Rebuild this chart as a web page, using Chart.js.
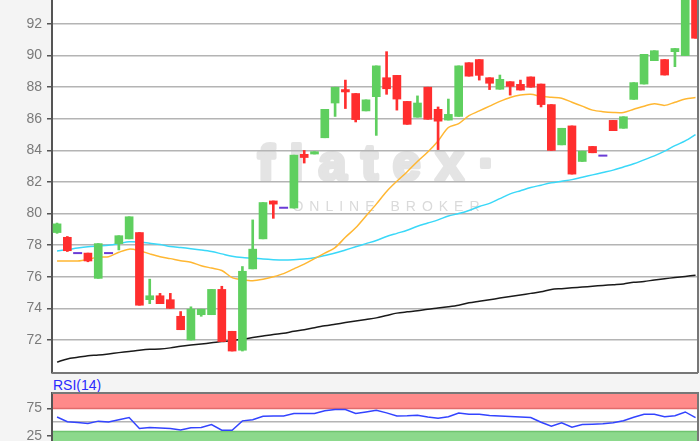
<!DOCTYPE html>
<html>
<head>
<meta charset="utf-8">
<script src="https://cdn.jsdelivr.net/npm/chart.js@4/dist/chart.umd.min.js"></script>
<style>
  html, body { margin: 0; padding: 0; width: 700px; height: 441px; overflow: hidden; background: #f4f4f4; }
  #main { position: absolute; left: 0; top: 0; }
  #rsi { position: absolute; left: 0; top: 392px; }
  #rsiLabel { position: absolute; left: 53px; top: 377px; font: 14px "Liberation Sans", Arial, sans-serif; line-height: 16px; color: #2a2aff; }
</style>
</head>
<body>
<canvas id="main" width="700" height="374"></canvas>
<div id="rsiLabel">RSI(14)</div>
<canvas id="rsi" width="700" height="80"></canvas>
<script>
// Kursdaten (63 Kerzen)
const opens = [78.8, 78.5, 77.5, 77.5, 75.9, 77.5, 78.1, 78.4, 78.8, 74.55,
  74.8, 74.55, 73.5, 72.0, 73.6, 73.6, 75.2, 72.55, 71.35, 76.5,
  78.4, 80.8, 80.37, 80.35, 83.75, 83.77, 84.8, 87.0, 87.85, 87.6,
  86.5, 87.4, 88.6, 88.75, 87.1, 86.1, 88.0, 86.6, 85.92, 86.15,
  89.55, 89.75, 88.6, 87.87, 88.35, 88.18, 88.65, 88.2, 86.9, 84.35,
  85.55, 83.3, 84.25, 83.67, 85.9, 85.4, 87.23, 88.2, 89.68, 89.75,
  90.25, 90.0, 94.5];
const closes = [79.35, 77.65, 77.5, 77.0, 78.1, 77.5, 78.6, 79.8, 74.2, 74.8,
  74.3, 74.0, 72.65, 73.95, 73.95, 75.2, 71.9, 71.3, 76.35, 77.75,
  80.7, 80.6, 80.37, 83.7, 83.55, 83.92, 86.6, 88.0, 87.7, 85.95,
  87.2, 89.35, 87.9, 87.25, 85.65, 87.0, 85.97, 85.85, 86.28, 89.35,
  88.7, 88.75, 88.25, 88.5, 88.05, 87.82, 88.0, 86.9, 84.0, 85.4,
  82.5, 83.95, 83.85, 83.67, 85.25, 86.13, 88.29, 90.08, 90.31, 88.77,
  90.45, 94.5, 91.1];
const highs = [79.4, 78.55, 77.5, 77.5, 78.1, 77.5, 78.6, 79.8, 78.8, 75.85,
  74.95, 74.95, 73.8, 74.1, 73.95, 75.2, 75.4, 72.55, 76.65, 79.6,
  80.7, 80.8, 80.37, 83.7, 84.0, 83.92, 86.6, 88.0, 88.45, 87.6,
  87.2, 89.35, 90.25, 88.75, 87.1, 87.45, 88.0, 86.75, 87.25, 89.35,
  89.55, 89.75, 88.6, 88.77, 88.35, 88.45, 88.65, 88.2, 86.9, 85.4,
  85.55, 83.95, 84.25, 83.67, 85.9, 86.13, 88.29, 90.08, 90.31, 89.75,
  90.45, 94.5, 94.5];
const lows = [78.75, 77.6, 77.5, 76.95, 75.9, 77.5, 77.7, 78.4, 74.2, 74.3,
  74.3, 74.0, 72.65, 72.0, 73.5, 73.6, 71.9, 71.3, 71.3, 76.5,
  78.4, 79.7, 80.37, 80.35, 83.2, 83.77, 84.8, 86.15, 86.65, 85.8,
  86.5, 84.95, 87.55, 86.55, 85.65, 86.1, 85.97, 84.05, 85.92, 86.15,
  88.7, 88.45, 87.85, 87.87, 87.5, 87.82, 88.0, 86.75, 84.0, 84.35,
  82.5, 83.3, 83.85, 83.67, 85.25, 85.4, 87.23, 88.2, 89.68, 88.77,
  89.3, 90.0, 91.1];

// gleitende Durchschnitte
const maFast = [77.0, 77.0, 77.0, 77.1, 77.25, 77.27, 77.55, 77.75, 77.65, 77.45,
  77.27, 77.15, 77.02, 76.92, 76.7, 76.55, 76.4, 75.95, 75.82, 75.75,
  75.84, 76.0, 76.2, 76.5, 76.8, 77.15, 77.5, 77.85, 78.5, 79.1,
  79.85, 80.6, 81.4, 82.05, 82.65, 83.3, 83.9, 84.6, 85.45, 85.7,
  86.2, 86.5, 86.8, 87.1, 87.35, 87.5, 87.55, 87.42, 87.36, 87.3,
  87.05, 86.8, 86.55, 86.45, 86.4, 86.4, 86.6, 86.8, 86.95, 86.85,
  87.05, 87.25, 87.35];
const maMid = [77.63, 77.72, 77.82, 77.9, 77.95, 78.0, 78.1, 78.22, 78.2, 78.12,
  78.05, 77.92, 77.85, 77.78, 77.7, 77.6, 77.45, 77.3, 77.22, 77.18,
  77.12, 77.08, 77.06, 77.08, 77.12, 77.2, 77.35, 77.5, 77.7, 77.9,
  78.1, 78.3, 78.55, 78.75, 78.95, 79.2, 79.4, 79.6, 79.85, 80.0,
  80.2, 80.45, 80.65, 80.95, 81.25, 81.45, 81.65, 81.8, 81.95, 82.05,
  82.15, 82.3, 82.45, 82.6, 82.75, 82.95, 83.15, 83.4, 83.65, 83.95,
  84.3, 84.6, 85.0];
const maSlow = [70.6, 70.8, 70.9, 71.0, 71.05, 71.12, 71.2, 71.27, 71.35, 71.41,
  71.43, 71.5, 71.6, 71.68, 71.75, 71.82, 71.9, 71.96, 72.05, 72.15,
  72.25, 72.35, 72.42, 72.55, 72.65, 72.78, 72.9, 73.0, 73.1, 73.2,
  73.3, 73.4, 73.55, 73.7, 73.78, 73.85, 73.95, 74.02, 74.1, 74.2,
  74.35, 74.45, 74.55, 74.65, 74.75, 74.85, 74.95, 75.05, 75.2, 75.25,
  75.3, 75.35, 75.4, 75.45, 75.5, 75.55, 75.65, 75.7, 75.8, 75.88,
  75.95, 76.02, 76.1];

const rsiValues = [59.5, 51, 49.5, 47.6, 52, 50.5, 54.7, 58.5, 38.6, 40.4,
  39.7, 38.6, 35.8, 40.1, 40.4, 45.7, 35.5, 35.5, 52.5, 54.7,
  60.9, 61.5, 61.5, 65.8, 65.8, 65.8, 71, 73, 73, 66,
  68.7, 71.7, 67, 61.4, 61.8, 62.8, 59.7, 57.1, 59.9, 66.9,
  64.6, 64.6, 62.1, 61.4, 60.4, 59.5, 58.7, 50, 42.9, 49,
  41, 45.7, 46.4, 47.2, 49, 52.8, 59, 64.6, 64.6, 59.9,
  61.8, 68.7, 58.5];

const priceTicks = [72, 74, 76, 78, 80, 82, 84, 86, 88, 90, 92];
const rsiTicks = [25, 50, 75];
const rsiZones = [33, 75];

const idx = closes.map((c, i) => i);
const up = '#5fcf5f', down = '#ff2e2e';
const candleColors = idx.map(i => closes[i] > opens[i] ? up : (closes[i] < opens[i] ? down : 'rgba(0,0,0,0)'));
const font = '"Liberation Sans", Arial, sans-serif';

// Hintergrund, Zonen, Wasserzeichen, Rahmen
const panel = {
  id: 'panel',
  beforeDraw(chart, args, o) {
    const { ctx, chartArea: a, scales: { y } } = chart;
    ctx.save();
    ctx.fillStyle = '#fff';
    ctx.fillRect(a.left, a.top, a.width, a.height);
    if (o.zones) {
      const hi = y.getPixelForValue(o.zones[1]);
      const lo = y.getPixelForValue(o.zones[0]);
      ctx.fillStyle = '#ff8a8a';
      ctx.fillRect(a.left, a.top, a.width, hi - a.top);
      ctx.fillStyle = '#8cd98c';
      ctx.fillRect(a.left, lo, a.width, a.bottom - lo);
      ctx.lineWidth = 1.5;
      ctx.strokeStyle = '#e26b6b';
      ctx.beginPath(); ctx.moveTo(a.left, hi); ctx.lineTo(a.right, hi); ctx.stroke();
      ctx.strokeStyle = '#6fc46f';
      ctx.beginPath(); ctx.moveTo(a.left, lo); ctx.lineTo(a.right, lo); ctx.stroke();
    }
    if (o.watermark) {
      const cx = (a.left + a.right) / 2;
      ctx.textAlign = 'center';
      ctx.textBaseline = 'alphabetic';
      ctx.fillStyle = '#e4e4e4';
      ctx.strokeStyle = '#e4e4e4';
      ctx.lineWidth = 4;
      ctx.lineJoin = 'round';
      ctx.font = 'bold 50px ' + font;
      ctx.letterSpacing = '15px';
      ctx.fillText('flatex\u00b7', cx + 9, a.top + 180);
      ctx.strokeText('flatex\u00b7', cx + 9, a.top + 180);
      ctx.font = '14px ' + font;
      ctx.letterSpacing = '6px';
      ctx.fillStyle = '#dadada';
      ctx.fillText('ONLINE BROKER', cx + 14, a.top + 211);
    }
    ctx.restore();
  },
  afterDraw(chart, args, o) {
    const { ctx, chartArea: a } = chart;
    ctx.save();
    ctx.strokeStyle = '#777';
    ctx.lineWidth = 2;
    ctx.beginPath();
    if (o.top) { ctx.moveTo(a.left, a.top + 1); ctx.lineTo(a.right, a.top + 1); }
    if (o.bottom) { ctx.moveTo(a.left, a.bottom); ctx.lineTo(a.right, a.bottom); }
    ctx.moveTo(a.right, a.top); ctx.lineTo(a.right, a.bottom);
    ctx.stroke();
    ctx.restore();
  }
};
Chart.register(panel);

const xAxis = { type: 'linear', display: false, offset: false, min: -0.49, max: 62.24 };
const fitLeft = s => { s.width = 52; s.paddingTop = 0; s.paddingBottom = 0; };

new Chart(document.getElementById('main'), {
  type: 'bar',
  data: {
    datasets: [
      { type: 'bar', data: idx.map(i => ({ x: i, y: [opens[i], closes[i]] })), backgroundColor: candleColors,
        barThickness: 8, grouped: false, borderWidth: 0, order: 0 },
      { type: 'bar', data: idx.map(i => ({ x: i, y: [lows[i], highs[i]] })), backgroundColor: candleColors,
        barThickness: 2, grouped: false, borderWidth: 0, order: 1 },
      { type: 'line', data: idx.map(i => ({ x: i, y: opens[i] === closes[i] ? opens[i] : null })), showLine: false,
        pointStyle: 'line', pointRadius: 4.5, pointBorderColor: '#6a3cd6', pointBorderWidth: 2, order: 0 },
      { type: 'line', data: idx.map(i => ({ x: i, y: maFast[i] })), borderColor: '#ffb732', borderWidth: 1.5,
        pointRadius: 0, tension: 0.3, order: 2 },
      { type: 'line', data: idx.map(i => ({ x: i, y: maMid[i] })), borderColor: '#3ad8f8', borderWidth: 1.5,
        pointRadius: 0, tension: 0.3, order: 2 },
      { type: 'line', data: idx.map(i => ({ x: i, y: maSlow[i] })), borderColor: '#1a1a1a', borderWidth: 1.5,
        pointRadius: 0, tension: 0.3, order: 2 }
    ]
  },
  options: {
    responsive: false,
    animation: false,
    layout: { autoPadding: false, padding: { top: 0, right: 2, bottom: 1, left: 0 } },
    plugins: { legend: { display: false }, tooltip: { enabled: false }, panel: { watermark: true, bottom: true } },
    scales: {
      x: xAxis,
      y: {
        min: 69.91, max: 93.52,
        afterBuildTicks: s => { s.ticks = priceTicks.map(v => ({ value: v })); },
        afterFit: fitLeft,
        border: { display: true, color: '#555', width: 2 },
        grid: { color: '#b4b4b4', lineWidth: 1.5, tickLength: 5, tickColor: '#555' },
        ticks: { color: '#7a7a7a', padding: 5, font: { family: font, size: 14 } }
      }
    }
  }
});

new Chart(document.getElementById('rsi'), {
  type: 'line',
  data: {
    datasets: [
      { data: idx.map(i => ({ x: i, y: rsiValues[i] })), borderColor: '#3344ff', borderWidth: 1.5, pointRadius: 0 }
    ]
  },
  options: {
    responsive: false,
    animation: false,
    layout: { autoPadding: false, padding: { top: 0, right: 2, bottom: 0, left: 0 } },
    plugins: { legend: { display: false }, tooltip: { enabled: false }, panel: { zones: rsiZones, top: true } },
    scales: {
      x: xAxis,
      y: {
        min: -40.5, max: 105,
        afterBuildTicks: s => { s.ticks = rsiTicks.map(v => ({ value: v })); },
        afterFit: fitLeft,
        border: { display: true, color: '#555', width: 2 },
        grid: {
          color: c => c.tick.value === 50 ? '#b4b4b4' : 'rgba(0,0,0,0)',
          lineWidth: 1.5, tickLength: 5,
          tickColor: c => c.tick.value === 50 ? 'rgba(0,0,0,0)' : '#555'
        },
        ticks: { color: '#7a7a7a', padding: 5, font: { family: font, size: 14 },
          callback: v => v === 50 ? '' : v }
      }
    }
  }
});
</script>
</body>
</html>
